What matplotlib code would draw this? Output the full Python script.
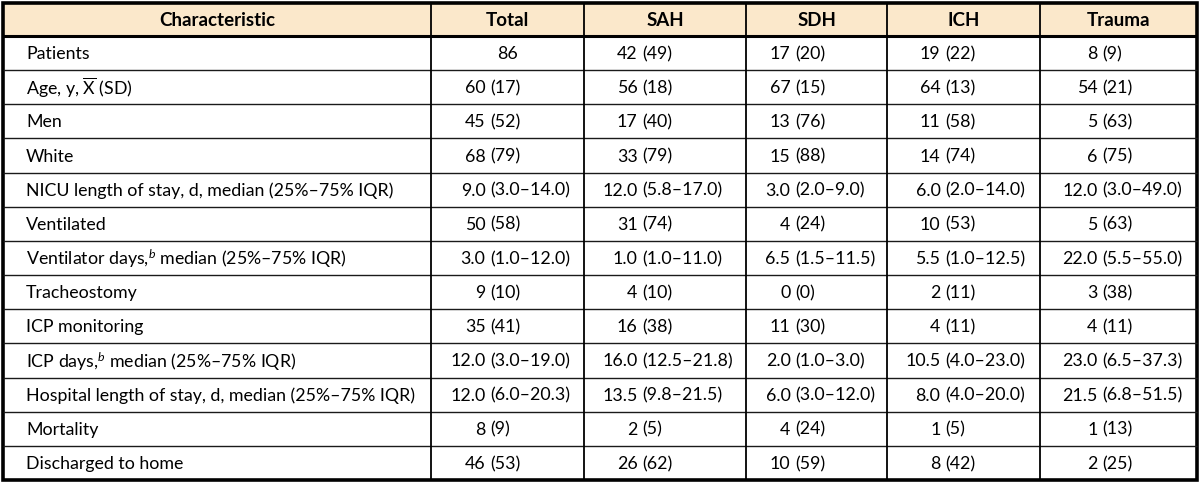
import matplotlib.pyplot as plt
from matplotlib.patches import Rectangle

plt.rcParams['font.family'] = ['Lato', 'DejaVu Sans']
plt.rcParams['mathtext.fontset'] = 'custom'
plt.rcParams['mathtext.rm'] = 'Lato'
plt.rcParams['mathtext.it'] = 'Lato:italic'

# table content
header = ["Characteristic", "Total", "SAH", "SDH", "ICH", "Trauma"]
characteristics = [
    "Patients",
    "Age, y, $\\overline{\\mathrm{X}}$ (SD)",
    "Men",
    "White",
    "NICU length of stay, d, median (25%–75% IQR)",
    "Ventilated",
    "Ventilator days,$^{\\mathit{b}}$ median (25%–75% IQR)",
    "Tracheostomy",
    "ICP monitoring",
    "ICP days,$^{\\mathit{b}}$ median (25%–75% IQR)",
    "Hospital length of stay, d, median (25%–75% IQR)",
    "Mortality",
    "Discharged to home",
]
total = ["86", "60 (17)", "45 (52)", "68 (79)", "9.0 (3.0–14.0)", "50 (58)",
         "3.0 (1.0–12.0)", "9 (10)", "35 (41)", "12.0 (3.0–19.0)",
         "12.0 (6.0–20.3)", "8 (9)", "46 (53)"]
sah = ["42 (49)", "56 (18)", "17 (40)", "33 (79)", "12.0 (5.8–17.0)", "31 (74)",
       "1.0 (1.0–11.0)", "4 (10)", "16 (38)", "16.0 (12.5–21.8)",
       "13.5 (9.8–21.5)", "2 (5)", "26 (62)"]
sdh = ["17 (20)", "67 (15)", "13 (76)", "15 (88)", "3.0 (2.0–9.0)", "4 (24)",
       "6.5 (1.5–11.5)", "0 (0)", "11 (30)", "2.0 (1.0–3.0)",
       "6.0 (3.0–12.0)", "4 (24)", "10 (59)"]
ich = ["19 (22)", "64 (13)", "11 (58)", "14 (74)", "6.0 (2.0–14.0)", "10 (53)",
       "5.5 (1.0–12.5)", "2 (11)", "4 (11)", "10.5 (4.0–23.0)",
       "8.0 (4.0–20.0)", "1 (5)", "8 (42)"]
trauma = ["8 (9)", "54 (21)", "5 (63)", "6 (75)", "12.0 (3.0–49.0)", "5 (63)",
          "22.0 (5.5–55.0)", "3 (38)", "4 (11)", "23.0 (6.5–37.3)",
          "21.5 (6.8–51.5)", "1 (13)", "2 (25)"]
columns = [total, sah, sdh, ich, trauma]

# layout (pixels)
col_edges = [3, 431, 584, 746, 887, 1040, 1197]
paren_x = [490, 642, 795, 945, 1102]
top, head_bottom, bottom = 3, 36, 480
row_h = (bottom - head_bottom) / len(characteristics)
fs = 12.75

fig = plt.figure(figsize=(12, 4.83), dpi=100)
ax = fig.add_axes([0, 0, 1, 1])
ax.set_xlim(0, 1200)
ax.set_ylim(483, 0)
ax.axis('off')

ax.add_patch(Rectangle((col_edges[0], top), col_edges[-1] - col_edges[0],
                       head_bottom - top, facecolor='#fbe8cb', edgecolor='none'))

for i, h in enumerate(header):
    ax.text((col_edges[i] + col_edges[i + 1]) / 2, (top + head_bottom) / 2 + 1, h,
            fontsize=13.5, weight='bold', ha='center', va='center')

for r, name in enumerate(characteristics):
    yc = head_bottom + (r + 0.5) * row_h + 1
    ax.text(26, yc, name, fontsize=fs, ha='left', va='center')
    for c, col in enumerate(columns):
        val = col[r]
        if ' (' in val:
            left, right = val.split(' (', 1)
            ax.text(paren_x[c] - 4.5, yc, left, fontsize=fs, ha='right', va='center')
            ax.text(paren_x[c], yc, '(' + right, fontsize=fs, ha='left', va='center')
        else:
            ax.text((col_edges[c + 1] + col_edges[c + 2]) / 2, yc, val,
                    fontsize=fs, ha='center', va='center')

# grid lines
for r in range(1, len(characteristics)):
    y = head_bottom + r * row_h
    ax.hlines(y, col_edges[0], col_edges[-1], color='#1a1a1a', lw=1.0)
ax.vlines(col_edges[1:-1], top, bottom, color='black', lw=1.3)
ax.hlines(head_bottom, col_edges[0], col_edges[-1], color='black', lw=2.2)
ax.add_patch(Rectangle((col_edges[0], top), col_edges[-1] - col_edges[0], bottom - top,
                       facecolor='none', edgecolor='black', lw=2.6))

fig.savefig('out.png', dpi=100)
